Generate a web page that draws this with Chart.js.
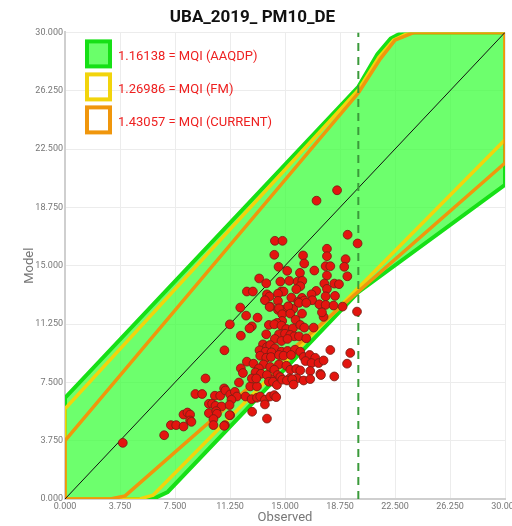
<!DOCTYPE html>
<html>
<head>
<meta charset="utf-8">
<script src="https://cdn.jsdelivr.net/npm/chart.js@4.4.1/dist/chart.umd.min.js"></script>
<style>
  html, body { margin: 0; padding: 0; background: #fff; overflow: hidden; }
  #wrap { width: 530px; height: 526px; }
</style>
</head>
<body>
<div id="wrap"><canvas id="mqiChart" width="530" height="526"></canvas></div>
<script>
// --- data ---
const chartTitle = 'UBA_2019_ PM10_DE';
const axisTicks = [0, 3.75, 7.5, 11.25, 15, 18.75, 22.5, 26.25, 30];
const limitValue = 20;

// scatter: observed / modelled pairs
const observed = [
  18.55, 17.15, 19.27, 19.95, 14.31, 14.83, 17.86, 14.27, 16.23, 17.86, 19.13, 16.31, 14.56, 17.77, 18.09, 19.04,
  15.15, 17.00, 16.02, 17.86, 19.25, 13.24, 14.68, 15.29, 15.86, 16.18, 13.72, 17.68, 18.36, 18.68, 16.04, 14.74,
  14.90, 15.77, 17.86, 12.40, 12.81, 17.13, 16.81, 13.77, 13.95, 14.52, 16.16, 17.77, 18.41, 15.43, 13.63, 14.52,
  15.90, 16.31, 16.86, 17.34, 17.77, 18.31, 18.93, 11.95, 13.99, 15.24, 15.56, 14.86, 14.52,
  13.95, 14.59, 15.22, 15.95, 16.45, 14.81, 15.36, 16.16, 12.35, 13.13, 17.63, 17.52, 19.91, 15.72, 14.81, 14.45,
  11.24, 12.74, 12.58, 13.90, 14.27, 14.76, 15.09, 15.54, 16.04, 16.31, 16.95, 11.99, 13.72, 14.59, 15.00, 15.36,
  15.63, 14.31, 14.76, 15.17, 15.95, 16.45, 13.50, 13.77, 13.99, 14.31, 10.87, 13.26, 13.67, 14.08, 14.76, 15.17,
  15.68, 16.04, 13.31, 13.72, 14.04, 14.59, 14.90, 15.41, 16.27, 16.68, 17.06, 16.40, 16.81, 17.29, 17.63, 18.09,
  19.45, 19.23, 12.40, 12.85, 13.54, 13.99, 14.59, 15.09, 11.99, 12.13, 13.22, 12.99, 13.36, 14.27, 14.49, 15.36,
  15.77, 16.04, 16.72, 17.41, 18.36, 14.04, 14.68, 15.31, 15.82, 16.27, 16.72, 9.58, 17.45,
  8.89, 9.35, 10.22, 10.58, 10.85, 10.94, 11.26, 11.58, 11.72, 11.35, 11.86, 12.31, 9.81, 10.03, 10.26, 10.67,
  11.22, 9.81, 10.31, 10.36, 11.26, 12.72, 13.09, 13.31, 13.63, 13.63, 13.99, 12.76, 13.77, 8.08, 8.35, 8.53,
  8.53, 8.62, 10.12, 7.22, 7.58, 8.08, 10.12, 10.90, 6.76, 12.63, 13.09, 12.74, 13.04, 13.77, 13.90, 14.18,
  14.45, 14.81, 15.13, 15.49, 15.58, 14.27, 14.40, 3.94, 10.85, 11.22
];
const modelled = [
  19.85, 19.18, 16.99, 16.43, 16.60, 16.60, 16.09, 15.70, 15.66, 15.61, 15.42, 15.14, 14.93, 14.97, 14.97, 14.93,
  14.67, 14.69, 14.54, 14.37, 14.32, 14.18, 13.98, 14.03, 13.98, 14.03, 13.87, 13.85, 13.85, 13.81, 13.68, 13.34,
  13.34, 13.49, 13.51, 13.34, 13.34, 13.38, 13.16, 13.16, 13.02, 13.20, 12.93, 13.03, 13.06, 12.95, 12.78, 12.74,
  12.69, 12.76, 12.78, 12.52, 12.48, 12.44, 12.37, 12.31, 12.37, 12.37, 12.22, 12.16, 12.16,
  12.35, 12.26, 12.39, 12.61, 12.61, 11.88, 11.92, 11.92, 11.79, 11.66, 11.71, 12.00, 12.05, 11.53, 11.45, 11.32,
  11.23, 11.10, 10.97, 11.19, 11.23, 11.15, 10.93, 10.97, 11.19, 11.02, 11.02, 10.50, 10.59, 10.59, 10.63, 10.55,
  10.46, 10.29, 10.16, 10.29, 10.46, 10.33, 9.94, 9.77, 9.90, 9.68, 9.56, 9.56, 9.47, 9.43, 9.47, 9.52,
  9.60, 9.47, 9.21, 9.08, 9.13, 9.26, 9.21, 9.26, 9.13, 9.26, 9.08, 8.87, 8.74, 8.74, 8.91, 9.58,
  9.39, 8.70, 8.83, 8.70, 8.65, 8.49, 8.65, 8.57, 8.40, 8.10, 8.40, 8.14, 8.05, 8.31, 7.97, 8.31,
  8.36, 8.27, 8.23, 8.05, 7.88, 7.71, 7.84, 7.75, 7.75, 7.62, 7.71, 7.75, 7.97,
  6.75, 6.75, 6.64, 6.64, 7.11, 6.98, 6.72, 6.89, 6.59, 6.38, 7.49, 6.59, 6.12, 6.12, 5.99, 5.95,
  6.04, 5.52, 5.65, 5.48, 5.39, 6.42, 6.51, 6.59, 6.38, 6.08, 6.59, 5.61, 5.17, 5.43, 5.56, 5.43,
  5.05, 4.96, 5.14, 4.75, 4.75, 4.66, 4.75, 4.75, 4.10, 7.24, 7.24, 7.75, 7.75, 7.97, 7.54, 7.54,
  7.33, 7.67, 7.62, 7.71, 7.36, 6.68, 6.55, 3.61, 4.70, 5.39
];

// MQI bands: upper and lower boundary vertices
const aaqdpUpperX = [0, 20, 21.3, 22.2, 23, 30];
const aaqdpUpperY = [6.5, 26.5, 28.6, 29.6, 30, 30];
const aaqdpLowerX = [6, 7, 20, 30];
const aaqdpLowerY = [0, 0.45, 13.3, 20.2];

const fmUpperX = [0, 20, 21.4, 22.4, 23.5, 30];
const fmUpperY = [5.8, 26.3, 28.4, 29.5, 30, 30];
const fmLowerX = [5.1, 6.0, 30];
const fmLowerY = [0, 0.25, 23.1];

const curUpperX = [0, 20, 21.5, 22.5, 23.8, 30];
const curUpperY = [3.75, 26.1, 28.3, 29.5, 30, 30];
const curLowerX = [3.1, 4.1, 30];
const curLowerY = [0, 0.2, 21.6];

const legendLabels = ['1.16138 = MQI (AAQDP)', '1.26986 = MQI (FM)', '1.43057 = MQI (CURRENT)'];
const legendColors = ['#16e016', '#f2d40c', '#f0960c'];

// --- build closed polygon from upper + lower boundary ---
function bandPolygon(ux, uy, lx, ly) {
    const pts = [{ x: 0, y: 0 }];
    for (let i = 0; i < ux.length; i++) pts.push({ x: ux[i], y: uy[i] });
    for (let i = lx.length - 1; i >= 0; i--) pts.push({ x: lx[i], y: ly[i] });
    pts.push({ x: 0, y: 0 });
    return pts;
}

const scatterPts = observed.map((o, i) => ({ x: o, y: modelled[i] }));

// legend drawn inside the plot (top-left)
const bandLegend = {
    id: 'bandLegend',
    afterDraw(chart) {
        const { ctx, chartArea } = chart;
        ctx.save();
        legendLabels.forEach((label, i) => {
            const bx = chartArea.left + 22;
            const by = chartArea.top + 9 + i * 33;
            if (i === 0) {
                ctx.fillStyle = 'rgba(80, 255, 80, 0.85)';
                ctx.fillRect(bx, by, 23, 25);
            }
            ctx.strokeStyle = legendColors[i];
            ctx.lineWidth = 4;
            ctx.strokeRect(bx, by, 23, 25);
            ctx.fillStyle = '#ee2020';
            ctx.font = '13px Roboto';
            ctx.textBaseline = 'middle';
            ctx.fillText(label, chartArea.left + 53, by + 15);
        });
        ctx.restore();
    }
};

Chart.defaults.font.family = 'Roboto';
Chart.defaults.color = '#777';

const axisCommon = {
    type: 'linear',
    min: 0,
    max: 30,
    afterBuildTicks: (scale) => { scale.ticks = axisTicks.map(v => ({ value: v })); },
    ticks: { font: { size: 9 }, color: '#777', padding: 2, callback: v => v.toFixed(3) },
    grid: { color: '#ececec', drawTicks: false },
    border: { color: '#cfcfcf', width: 2 }
};

new Chart(document.getElementById('mqiChart'), {
    type: 'scatter',
    data: {
        datasets: [
            {
                label: 'stations',
                data: scatterPts,
                pointRadius: 4.4,
                pointBackgroundColor: '#e3150f',
                pointBorderColor: 'rgba(120, 30, 20, 0.85)',
                pointBorderWidth: 1,
                showLine: false
            },
            {
                label: 'limit',
                data: [{ x: limitValue, y: 0 }, { x: limitValue, y: 30 }],
                showLine: true,
                borderColor: '#3a9a3a',
                borderWidth: 2,
                borderDash: [8, 6],
                pointRadius: 0
            },
            {
                label: '1:1',
                data: [{ x: 0, y: 0 }, { x: 30, y: 30 }],
                showLine: true,
                borderColor: '#111',
                borderWidth: 1,
                pointRadius: 0
            },
            {
                label: legendLabels[2],
                data: bandPolygon(curUpperX, curUpperY, curLowerX, curLowerY),
                showLine: true,
                borderColor: legendColors[2],
                borderWidth: 3.5,
                pointRadius: 0,
                fill: false
            },
            {
                label: legendLabels[1],
                data: bandPolygon(fmUpperX, fmUpperY, fmLowerX, fmLowerY),
                showLine: true,
                borderColor: legendColors[1],
                borderWidth: 3.5,
                pointRadius: 0,
                fill: false
            },
            {
                label: legendLabels[0],
                data: bandPolygon(aaqdpUpperX, aaqdpUpperY, aaqdpLowerX, aaqdpLowerY),
                showLine: true,
                borderColor: legendColors[0],
                backgroundColor: 'rgba(60, 255, 60, 0.75)',
                borderWidth: 4,
                pointRadius: 0,
                fill: 'shape'
            }
        ]
    },
    options: {
        responsive: false,
        animation: false,
        layout: { padding: { left: 0, right: 25, top: 0, bottom: 0 } },
        plugins: {
            legend: { display: false },
            tooltip: { enabled: false },
            title: {
                display: true,
                text: chartTitle,
                color: '#111',
                font: { size: 17, weight: 'bold' },
                padding: { top: 8, bottom: 4 }
            }
        },
        scales: {
            x: Object.assign({}, axisCommon, {
                title: { display: true, text: 'Observed', font: { size: 13 }, color: '#777', padding: { top: 0, bottom: 0 } },
                afterFit: (scale) => { scale.height = 27; }
            }),
            y: Object.assign({}, axisCommon, {
                title: { display: true, text: 'Model', font: { size: 13 }, color: '#777', padding: { top: 22, bottom: 0 } },
                afterFit: (scale) => { scale.width = 65; }
            })
        }
    },
    plugins: [bandLegend]
});
</script>
</body>
</html>
